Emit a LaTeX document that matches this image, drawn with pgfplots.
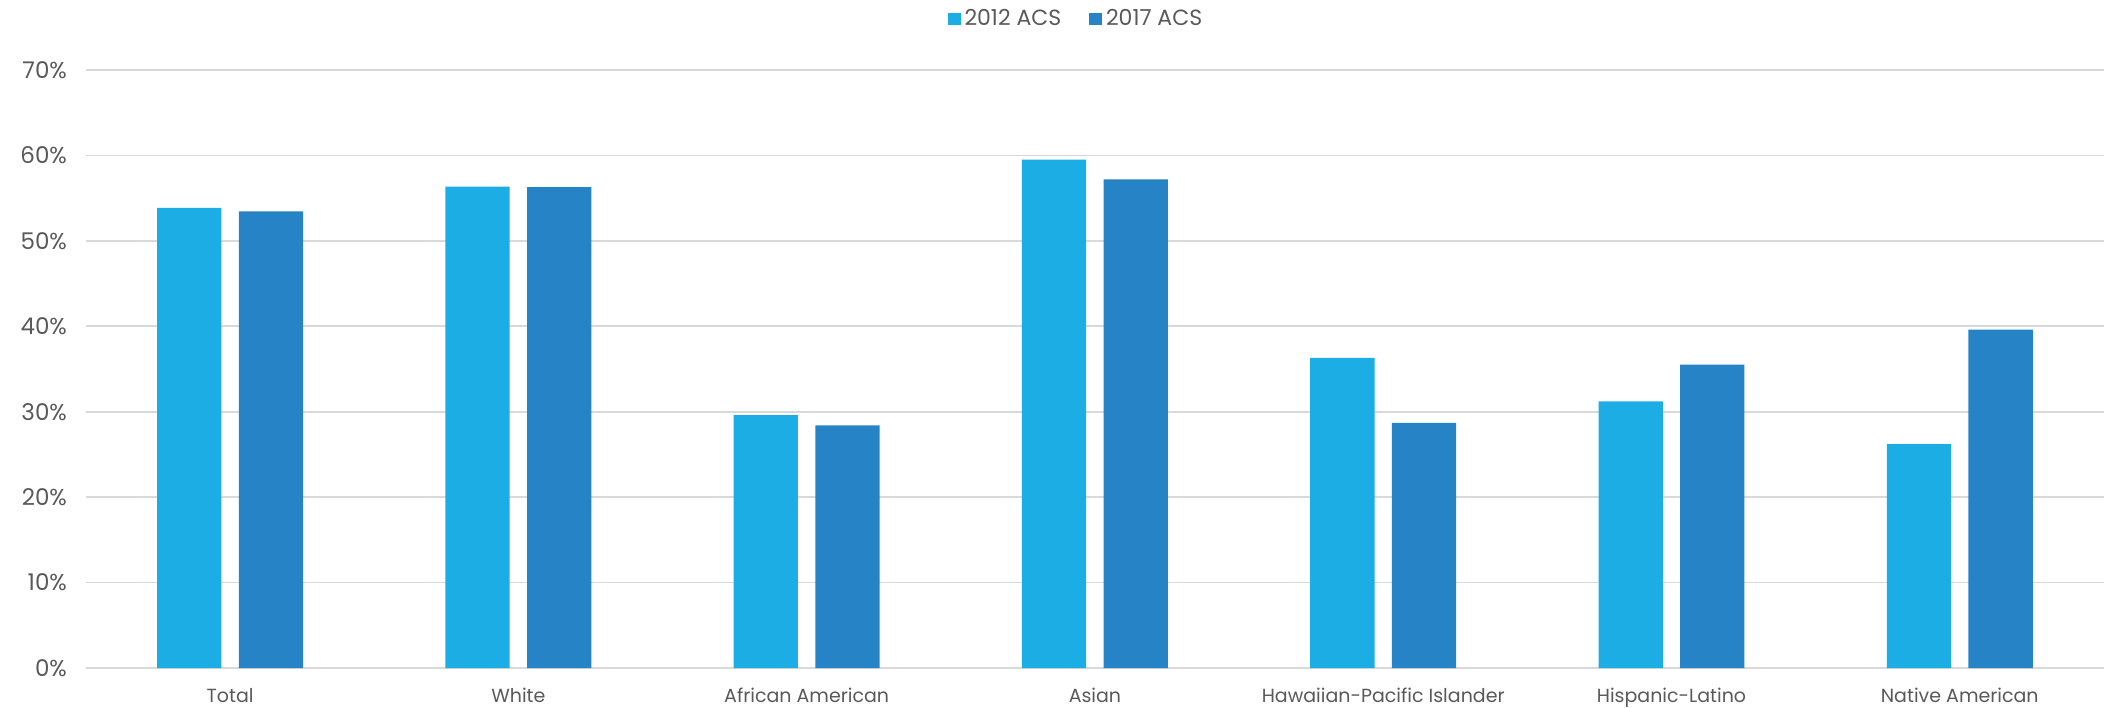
\documentclass[border=0pt]{standalone}
\usepackage{pgfplots}
\pgfplotsset{compat=1.18}
\usepackage{fontspec}
\setmainfont{Poppins}
\definecolor{cA}{HTML}{1CADE4}
\definecolor{cB}{HTML}{2683C6}
\definecolor{txt}{HTML}{595959}
\definecolor{grd}{HTML}{D9D9D9}
\begin{document}
\begin{tikzpicture}
\path[use as bounding box] (-43pt,-19.5pt) rectangle (1009pt,334pt);
\begin{axis}[
  scale only axis,
  width=1009pt, height=299pt,
  xmin=-0.5, xmax=6.5, ymin=0, ymax=70,
  ytick={0,10,...,70},
  xtick={0,1,2,3,4,5,6},
  xticklabels={Total,White,African American,Asian,Hawaiian-Pacific Islander,Hispanic-Latino,Native American},
  yticklabel={\pgfmathprintnumber{\tick}\%},
  /pgf/number format/assume math mode=true,
  ymajorgrids, grid style={grd, line width=0.85pt},
  axis line style={draw=none},
  major tick length=0pt,
  tick label style={text=txt},
  xticklabel style={font=\fontsize{9.5}{11}\selectfont, yshift=-6.7pt},
  yticklabel style={font=\fontsize{11.5}{13}\selectfont, xshift=-6pt},
  ybar, bar width=0.223,
  legend style={at={(0.5,1)}, anchor=center, yshift=25.5pt, xshift=-9pt, draw=none, fill=none, legend columns=2,
    font=\fontsize{11}{13}\selectfont, text=txt,
    /tikz/every even column/.append style={column sep=12pt}},
  legend image code/.code={\fill[#1] (0pt,-3.2pt) rectangle (6.4pt,3.2pt);},
]
\addplot[fill=cA, draw=none, bar shift=-0.1417] coordinates {(0,53.85) (1,56.35) (2,29.6) (3,59.5) (4,36.3) (5,31.2) (6,26.2)};
\addplot[fill=cB, draw=none, bar shift=0.1417] coordinates {(0,53.45) (1,56.3) (2,28.4) (3,57.2) (4,28.7) (5,35.5) (6,39.6)};
\legend{2012 ACS, 2017 ACS}
\end{axis}
\end{tikzpicture}
\end{document}
